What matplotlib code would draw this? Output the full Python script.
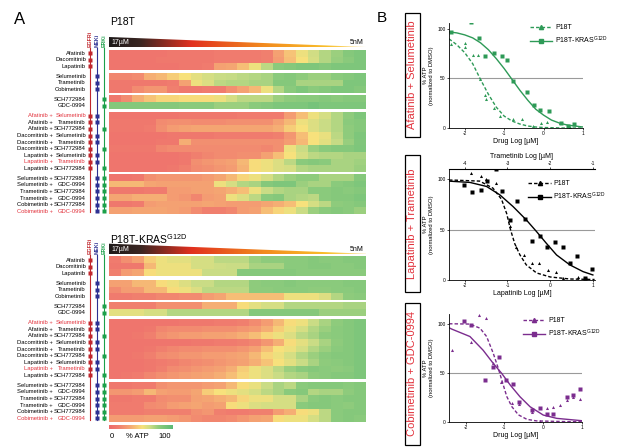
import numpy as np
import matplotlib.pyplot as plt
from matplotlib.colors import LinearSegmentedColormap
from matplotlib.patches import Rectangle, Polygon
from matplotlib.lines import Line2D

plt.rcParams['font.family'] = ['Liberation Sans', 'DejaVu Sans']
plt.rcParams['mathtext.fontset'] = 'custom'
plt.rcParams['mathtext.rm'] = 'Liberation Sans'
plt.rcParams['axes.unicode_minus'] = False

# ---- heatmap rows (% ATP, 22 doses from 17uM down to 5nM) ----
ROW_LABELS = ['Afatinib', 'Dacomitinib', 'Lapatinib',
              'Selumetinib', 'Trametinib', 'Cobimetinib',
              'SCH772984', 'GDC-0994',
              'Afatinib + Selumetinib', 'Afatinib + Trametinib', 'Afatinib + SCH772984',
              'Dacomitinib + Selumetinib', 'Dacomitinib + Trametinib', 'Dacomitinib + SCH772984',
              'Lapatinib + Selumetinib', 'Lapatinib + Trametinib', 'Lapatinib + SCH772984',
              'Selumetinib + SCH772984', 'Selumetinib + GDC-0994', 'Trametinib + SCH772984',
              'Trametinib + GDC-0994', 'Cobimetinib + SCH772984', 'Cobimetinib + GDC-0994']
ROW_TARGETS = ['E', 'E', 'E', 'M', 'M', 'M', 'K', 'K',
               'EM', 'EM', 'EK', 'EM', 'EM', 'EK', 'EM', 'EM', 'EK',
               'MK', 'MK', 'MK', 'MK', 'MK', 'MK']
RED_LABELS = ['Afatinib + Selumetinib', 'Lapatinib + Trametinib', 'Cobimetinib + GDC-0994']
GROUP_SIZES = [3, 3, 2, 9, 6]

P18T_ATP = [
    [8, 8, 8, 8, 8, 10, 10, 10, 10, 12, 12, 12, 12, 15, 30, 42, 55, 63, 70, 75, 82, 85],
    [8, 8, 8, 8, 10, 10, 10, 10, 10, 12, 12, 12, 12, 15, 28, 40, 52, 62, 70, 76, 80, 85],
    [8, 8, 8, 8, 8, 8, 10, 10, 12, 30, 32, 40, 55, 68, 80, 82, 85, 85, 82, 85, 85, 85],
    [18, 18, 20, 35, 38, 45, 52, 58, 62, 65, 66, 68, 70, 72, 80, 82, 78, 75, 75, 80, 82, 85],
    [10, 10, 10, 10, 10, 12, 30, 55, 60, 68, 70, 70, 72, 72, 82, 82, 72, 72, 72, 72, 85, 85],
    [10, 10, 20, 25, 25, 15, 10, 10, 12, 12, 22, 30, 38, 55, 70, 80, 85, 80, 82, 85, 85, 82],
    [10, 20, 35, 42, 48, 48, 50, 50, 50, 55, 62, 68, 68, 68, 75, 78, 80, 80, 82, 80, 82, 82],
    [82, 82, 82, 82, 82, 82, 80, 80, 80, 75, 75, 75, 80, 82, 85, 85, 85, 88, 85, 85, 85, 85],
    [8, 8, 8, 8, 8, 8, 10, 10, 10, 10, 10, 12, 12, 12, 12, 28, 40, 55, 62, 70, 78, 85],
    [10, 10, 10, 10, 20, 22, 22, 20, 20, 20, 22, 22, 22, 22, 30, 38, 55, 60, 65, 70, 80, 82],
    [10, 10, 10, 12, 22, 28, 30, 32, 32, 32, 32, 32, 32, 32, 35, 45, 52, 60, 65, 70, 78, 82],
    [8, 8, 8, 8, 8, 10, 10, 10, 10, 12, 12, 12, 12, 12, 15, 25, 40, 52, 56, 68, 78, 85],
    [8, 8, 8, 8, 10, 10, 35, 22, 22, 22, 22, 22, 22, 22, 22, 28, 38, 52, 58, 66, 76, 84],
    [10, 10, 10, 10, 18, 20, 20, 20, 20, 20, 20, 20, 20, 18, 22, 55, 65, 75, 80, 82, 82, 85],
    [8, 8, 8, 8, 8, 8, 10, 15, 18, 20, 20, 22, 22, 30, 40, 52, 62, 68, 70, 70, 72, 72],
    [8, 8, 8, 8, 8, 8, 10, 22, 25, 28, 30, 38, 50, 55, 60, 68, 80, 82, 80, 72, 72, 74],
    [8, 8, 8, 8, 8, 10, 15, 20, 22, 25, 28, 36, 50, 55, 60, 62, 70, 72, 72, 72, 72, 75],
    [8, 8, 10, 22, 25, 25, 25, 25, 28, 32, 38, 48, 55, 62, 70, 75, 78, 78, 72, 72, 72, 82],
    [38, 38, 38, 32, 30, 30, 30, 30, 30, 55, 62, 70, 72, 82, 85, 85, 75, 72, 72, 80, 82, 85],
    [10, 10, 10, 12, 12, 28, 28, 30, 30, 32, 35, 40, 55, 65, 70, 72, 72, 80, 80, 82, 80, 82],
    [32, 32, 35, 35, 35, 28, 25, 18, 28, 30, 55, 60, 68, 80, 82, 72, 70, 68, 80, 82, 82, 85],
    [10, 10, 12, 28, 30, 30, 30, 30, 32, 30, 28, 28, 28, 32, 35, 40, 52, 62, 68, 78, 80, 82],
    [30, 30, 32, 32, 32, 30, 28, 20, 15, 15, 18, 28, 30, 40, 48, 55, 65, 75, 80, 82, 80, 75],
]

KRAS_ATP = [
    [12, 22, 30, 45, 55, 58, 58, 62, 62, 68, 68, 68, 75, 78, 78, 80, 80, 82, 80, 80, 82, 82],
    [10, 10, 10, 38, 55, 55, 55, 62, 62, 64, 65, 65, 72, 72, 72, 80, 80, 82, 82, 80, 80, 82],
    [15, 28, 32, 50, 55, 55, 55, 55, 65, 65, 65, 82, 82, 82, 82, 82, 80, 80, 80, 80, 80, 80],
    [30, 30, 38, 38, 50, 55, 60, 65, 65, 70, 70, 70, 78, 80, 80, 82, 80, 80, 80, 80, 82, 82],
    [20, 28, 28, 38, 38, 50, 55, 60, 68, 68, 68, 68, 78, 78, 80, 80, 80, 78, 78, 80, 80, 82],
    [12, 12, 15, 15, 18, 18, 20, 20, 28, 32, 40, 40, 40, 40, 40, 55, 55, 55, 60, 70, 78, 80],
    [15, 15, 15, 15, 22, 22, 22, 22, 35, 35, 35, 50, 58, 62, 62, 70, 70, 70, 70, 70, 72, 72],
    [58, 58, 58, 62, 62, 70, 70, 70, 70, 70, 70, 70, 82, 82, 82, 82, 82, 82, 75, 75, 75, 75],
    [8, 8, 8, 8, 8, 8, 10, 10, 10, 12, 12, 15, 20, 28, 38, 50, 55, 65, 72, 78, 82, 85],
    [8, 8, 8, 10, 18, 20, 20, 20, 22, 22, 22, 25, 28, 35, 45, 55, 62, 70, 75, 80, 82, 85],
    [8, 8, 10, 15, 22, 25, 28, 28, 30, 30, 32, 35, 40, 48, 55, 60, 68, 72, 78, 80, 82, 85],
    [8, 8, 8, 8, 8, 8, 8, 10, 10, 12, 12, 15, 18, 25, 35, 50, 58, 65, 72, 78, 82, 85],
    [8, 8, 8, 10, 15, 18, 20, 20, 22, 22, 22, 25, 30, 40, 52, 55, 62, 70, 75, 80, 82, 85],
    [8, 8, 10, 15, 20, 22, 25, 25, 28, 28, 30, 32, 38, 48, 55, 62, 70, 75, 80, 82, 82, 85],
    [8, 8, 8, 10, 12, 15, 18, 20, 22, 25, 28, 30, 35, 42, 52, 58, 65, 72, 78, 80, 82, 85],
    [8, 8, 8, 10, 15, 20, 22, 25, 28, 30, 35, 45, 55, 60, 68, 75, 80, 82, 80, 78, 80, 85],
    [8, 10, 12, 18, 22, 25, 28, 30, 32, 35, 40, 48, 55, 60, 65, 70, 72, 78, 80, 82, 82, 85],
    [10, 10, 12, 12, 22, 25, 25, 25, 28, 30, 38, 50, 56, 65, 72, 68, 80, 82, 82, 82, 80, 82],
    [25, 25, 28, 38, 30, 28, 28, 32, 45, 52, 55, 58, 62, 68, 72, 80, 82, 70, 72, 72, 78, 82],
    [10, 10, 12, 12, 20, 22, 22, 30, 32, 35, 38, 48, 55, 55, 62, 62, 72, 80, 82, 80, 82, 82],
    [12, 12, 12, 20, 22, 28, 30, 32, 28, 30, 50, 55, 60, 62, 62, 62, 80, 82, 82, 80, 78, 82],
    [12, 12, 12, 15, 15, 15, 15, 22, 25, 15, 12, 12, 15, 15, 28, 35, 50, 55, 68, 80, 82, 82],
    [28, 28, 28, 30, 30, 28, 25, 20, 18, 18, 20, 25, 30, 32, 50, 55, 55, 62, 68, 80, 82, 80],
]

# ---- dose response panels (B) ----
AS_X_P18T = [-2.36, -2.0, -2.0, -1.8, -1.66, -1.62, -1.49, -1.45, -1.27, -1.1, -0.78, -0.55, -0.28, -0.06, 0.08, 0.42, 0.67]
AS_Y_P18T = [85, 86, 82, 74, 74, 49, 33, 29, 20, 12, 9, 9, 2, 5, 6, 5, 1]
AS_X_KRAS = [-2.34, -1.85, -1.64, -1.49, -1.27, -1.06, -0.93, -0.78, -0.42, -0.25, -0.08, 0.13, 0.44, 0.62, 0.78]
AS_Y_KRAS = [97, 107, 91, 73, 76, 73, 69, 47, 36, 23, 18, 17, 5, 2, 4]
AS_FIT_X_P18T = [-2.4, -2.2, -2.0, -1.8, -1.6, -1.4, -1.2, -1.0, -0.8, -0.6, -0.4, -0.2, 0.0, 0.5, 1.0]
AS_FIT_Y_P18T = [90, 84, 76, 65, 49, 34, 21, 12, 7, 4, 2, 1, 0.5, 0, 0]
AS_FIT_X_KRAS = [-2.4, -2.2, -2.0, -1.8, -1.6, -1.4, -1.2, -1.0, -0.8, -0.6, -0.4, -0.2, 0.0, 0.2, 0.4, 0.6, 0.8, 1.0]
AS_FIT_Y_KRAS = [97, 96, 94, 91, 86, 79, 70, 60, 49, 38, 28, 19, 13, 8, 5, 3, 2, 1]

LT_X_P18T = [-1.85, -1.61, -1.5, -1.28, -0.95, -0.8, -0.62, -0.43, -0.27, -0.04, 0.13, 0.3, 0.65, 0.84]
LT_Y_P18T = [106, 103, 100, 96, 54, 33, 25, 17, 17, 10, 8, 2, 3, 2]
LT_X_KRAS = [-2.02, -1.84, -1.63, -1.48, -1.28, -1.12, -0.95, -0.78, -0.59, -0.43, -0.25, -0.07, 0.12, 0.29, 0.47, 0.64, 0.82, 0.99]
LT_Y_KRAS = [94, 87, 89, 98, 110, 88, 59, 78, 60, 39, 44, 33, 38, 33, 17, 24, 2, 11]
LT_FIT_X_P18T = [-2.37, -2.27, -1.65, -1.34, -1.14, -1.02, -0.93, -0.83, -0.71, -0.56, -0.32, 0.0, 0.46, 1.04]
LT_FIT_Y_P18T = [99, 99, 98, 91, 80, 66, 50, 36, 25, 15, 7, 3, 1, 0.5]
LT_FIT_X_KRAS = [-2.37, -2.27, -1.88, -1.49, -1.18, -0.87, -0.56, -0.32, -0.09, 0.15, 0.46, 0.77, 1.0]
LT_FIT_Y_KRAS = [98, 97.7, 96.7, 92.7, 84.4, 72.8, 59.6, 48, 36.4, 24.8, 15, 8.3, 5]

CG_X_P18T = [-2.36, -1.85, -1.65, -1.48, -1.30, -1.10, -0.81, -0.62, -0.28, -0.08, 0.09, 0.26, 0.44, 0.61, 0.78, 0.95]
CG_Y_P18T = [73, 81, 109, 106, 60, 41, 19, 18, 10, 1, 14, 15, 17, 22, 25, 23]
CG_X_KRAS = [-2.04, -1.85, -1.5, -1.30, -1.13, -0.96, -0.79, -0.62, -0.28, -0.08, 0.09, 0.26, 0.61, 0.78, 0.95]
CG_Y_KRAS = [103, 99, 43, 56, 66, 43, 39, 20, 12, 14, 8, 8, 25, 27, 33]
CG_FIT_X_P18T = [-2.43, -2.32, -1.89, -1.63, -1.46, -1.29, -1.16, -1.07, -0.94, -0.81, -0.64, -0.42, -0.17, 0.69, 1.0]
CG_FIT_Y_P18T = [100, 100, 99.7, 95.5, 87, 70, 54.6, 42.7, 25.7, 15.4, 7, 2.4, 0.8, 0, 0]
CG_FIT_X_KRAS = [-2.43, -2.36, -1.89, -1.55, -1.29, -1.07, -0.85, -0.60, -0.34, 0.0, 0.35, 1.0]
CG_FIT_Y_KRAS = [96, 94.6, 87, 73, 59.6, 49.3, 37.4, 25.5, 15.3, 6.8, 3.4, 1]

RED = '#e2323c'
TGT_COLORS = {'E': '#c1272d', 'M': '#2e3192', 'K': '#1ca04a'}
TGT_X = {'E': 89.7, 'M': 97.0, 'K': 104.0}
TGT_NAMES = {'E': 'EGFRi', 'M': 'MEKi', 'K': 'ERKi'}

heat_cmap = LinearSegmentedColormap.from_list('atp', [
    (0.0, '#ee6b6b'), (0.15, '#f1806f'), (0.32, '#f5a673'), (0.52, '#f8e27c'),
    (0.65, '#cbdd86'), (0.78, '#8fcc7d'), (1.0, '#5bba77')])
wedge_cmap = LinearSegmentedColormap.from_list('dose', [
    (0.0, '#1e1a1a'), (0.12, '#3a2622'), (0.32, '#e1301f'), (0.6, '#f28a1e'),
    (0.85, '#f9bf2c'), (1.0, '#fde7a0')])

W, H = 617, 448
fig = plt.figure(figsize=(W / 100, H / 100), dpi=100)
ax0 = fig.add_axes([0, 0, 1, 1])
ax0.set_xlim(0, W)
ax0.set_ylim(H, 0)
ax0.axis('off')

HX0, HX1 = 109, 366


def draw_block(title, data, title_y, top, bottom):
    ax0.text(110, title_y, title, fontsize=7.5, ha='left', va='baseline')
    # dose wedge
    wtop = top - 13
    poly = Polygon([(HX0, top - 2.5), (HX0, wtop), (HX1, top - 3), (HX1, top - 2.5)],
                   closed=True, facecolor='none', edgecolor='none', transform=ax0.transData)
    ax0.add_patch(poly)
    im = ax0.imshow(np.linspace(0, 1, 256)[None, :], cmap=wedge_cmap, aspect='auto',
                    extent=(HX0, HX1, top - 2.5, wtop), interpolation='bilinear')
    im.set_clip_path(poly)
    ax0.text(111, top - 7.5, '17µM', color='white', fontsize=5, ha='left', va='center')
    ax0.text(364, top - 7.5, '5nM', color='black', fontsize=5, ha='right', va='center')

    n_units = len(ROW_LABELS) + 0.5 * (len(GROUP_SIZES) - 1)
    h = (bottom - top) / n_units
    arr = np.array(data, dtype=float)
    start = 0
    row_y = []
    for g, size in enumerate(GROUP_SIZES):
        ytop = top + h * (start + 0.5 * g)
        ybot = ytop + h * size
        ax0.imshow(arr[start:start + size], cmap=heat_cmap, vmin=0, vmax=100, aspect='auto',
                   extent=(HX0, HX1, ybot, ytop), interpolation='nearest')
        for i in range(size):
            row_y.append(ytop + h * (i + 0.5))
        start += size

    # target columns
    for t in 'EMK':
        ax0.plot([TGT_X[t], TGT_X[t]], [top - 2, bottom - 2], color=TGT_COLORS[t], lw=0.8)
        ax0.text(TGT_X[t], top - 3, TGT_NAMES[t], rotation=90, ha='center', va='bottom',
                 fontsize=3.8, color=TGT_COLORS[t], fontweight='bold')

    for lab, tg, y in zip(ROW_LABELS, ROW_TARGETS, row_y):
        col = RED if lab in RED_LABELS else 'black'
        if ' + ' in lab:
            a, b = lab.split(' + ')
            ax0.text(53, y, a + ' +', ha='right', va='center', fontsize=4.2, color=col)
            ax0.text(86, y, b, ha='right', va='center', fontsize=4.2, color=col)
        else:
            ax0.text(86, y, lab, ha='right', va='center', fontsize=4.2, color=col)
        for t in tg:
            ax0.plot(TGT_X[t], y, marker='s', ms=3.2, color=TGT_COLORS[t], mec='none')


ax0.text(14, 24, 'A', fontsize=12, ha='left', va='baseline')
draw_block('P18T', P18T_ATP, 25, 50, 214.5)
draw_block(r'P18T-KRAS$^{\mathrm{G12D}}$', KRAS_ATP, 244, 256.7, 421.7)

# colour scale
ax0.imshow(np.linspace(0, 100, 128)[None, :], cmap=heat_cmap, vmin=0, vmax=100, aspect='auto',
           extent=(109, 173, 429.5, 425.5), interpolation='bilinear')
ax0.text(111.7, 436.5, '0', fontsize=5.5, ha='center', va='center')
ax0.text(137.5, 436.5, '% ATP', fontsize=5.5, ha='center', va='center')
ax0.text(165, 436.5, '100', fontsize=5.5, ha='center', va='center')

ax0.text(377, 22, 'B', fontsize=11, ha='left', va='baseline')


def px_rect(x0, x1, ytop, ybot):
    return [x0 / W, 1 - ybot / H, (x1 - x0) / W, (ybot - ytop) / H]


def dose_panel(rect, xlim, ylim, color, pts_a, pts_b, fit_a, fit_b, xlabel, box, name, leg_xy):
    ax = fig.add_axes(rect)
    ax.axhline(50, color='#9a9a9a', lw=0.8, zorder=1)
    ax.plot(fit_a[0], fit_a[1], color=color, lw=1, ls=(0, (2.5, 1.5)))
    ax.plot(fit_b[0], fit_b[1], color=color, lw=1)
    ax.plot(pts_a[0], pts_a[1], ls='none', marker='^', ms=2.2, color=color, mec='none')
    ax.plot(pts_b[0], pts_b[1], ls='none', marker='s', ms=2.2, color=color, mec='none')
    ax.set_xlim(*xlim)
    ax.set_ylim(*ylim)
    ax.set_xticks([-2, -1, 0, 1])
    ax.set_yticks([0, 50, 100])
    ax.tick_params(labelsize=3.5, length=1.5, width=0.5, pad=1)
    for s in ['top', 'right']:
        ax.spines[s].set_visible(False)
    for s in ['left', 'bottom']:
        ax.spines[s].set_linewidth(0.6)
    ax.set_xlabel(xlabel, fontsize=5, labelpad=1)
    ax.set_ylabel('% ATP\n(normalized to DMSO)', fontsize=4.2, labelpad=2, linespacing=1.3)
    handles = [Line2D([], [], color=color, lw=1, ls=(0, (2.5, 1.5)), marker='^', ms=3),
               Line2D([], [], color=color, lw=1, marker='s', ms=3)]
    ax.legend(handles, ['P18T', r'P18T-KRAS$^{\mathrm{G12D}}$'], loc='upper left',
              bbox_to_anchor=leg_xy, frameon=False, fontsize=5, handlelength=3.2,
              handletextpad=0.4, labelspacing=0.5, borderpad=0)
    x0, y0, y1 = box
    ax0.add_patch(Rectangle((x0, y0), 15, y1 - y0, facecolor='none', edgecolor='black', lw=0.9))
    ax0.text(x0 + 7.5, (y0 + y1) / 2, name, rotation=90, ha='center', va='center',
             fontsize=8, color=RED)
    return ax


dose_panel(px_rect(449, 583, 23, 128), (-2.4, 1.0), (0, 106), '#2e9a57',
           (AS_X_P18T, AS_Y_P18T), (AS_X_KRAS, AS_Y_KRAS),
           (AS_FIT_X_P18T, AS_FIT_Y_P18T), (AS_FIT_X_KRAS, AS_FIT_Y_KRAS),
           'Drug Log [µM]', (404.5, 13, 137), 'Afatinib + Selumetinib', (0.58, 1.02))

ax2 = dose_panel(px_rect(449, 595, 169, 280), (-2.37, 1.05), (0, 110), 'black',
                 (LT_X_P18T, LT_Y_P18T), (LT_X_KRAS, LT_Y_KRAS),
                 (LT_FIT_X_P18T, LT_FIT_Y_P18T), (LT_FIT_X_KRAS, LT_FIT_Y_KRAS),
                 'Lapatinib Log [µM]', (404.5, 155, 292), 'Lapatinib + Trametinib', (0.52, 0.93))
ax2.spines['top'].set_visible(True)
ax2.spines['top'].set_linewidth(0.6)
top = ax2.secondary_xaxis('top', functions=(lambda x: x - 2, lambda x: x + 2))
top.set_xticks([-4, -3, -2, -1])
top.tick_params(labelsize=3.5, length=1.5, width=0.5, pad=1)
top.set_xlabel('Trametinib Log [µM]', fontsize=5, labelpad=1.5)

dose_panel(px_rect(449, 582, 314, 421.7), (-2.43, 1.0), (0, 110), '#7b2d8e',
           (CG_X_P18T, CG_Y_P18T), (CG_X_KRAS, CG_Y_KRAS),
           (CG_FIT_X_P18T, CG_FIT_Y_P18T), (CG_FIT_X_KRAS, CG_FIT_Y_KRAS),
           'Drug Log [µM]', (404.5, 303, 445), 'Cobimetinib + GDC-0994', (0.53, 1.0))

fig.savefig('out.png', dpi=100)
